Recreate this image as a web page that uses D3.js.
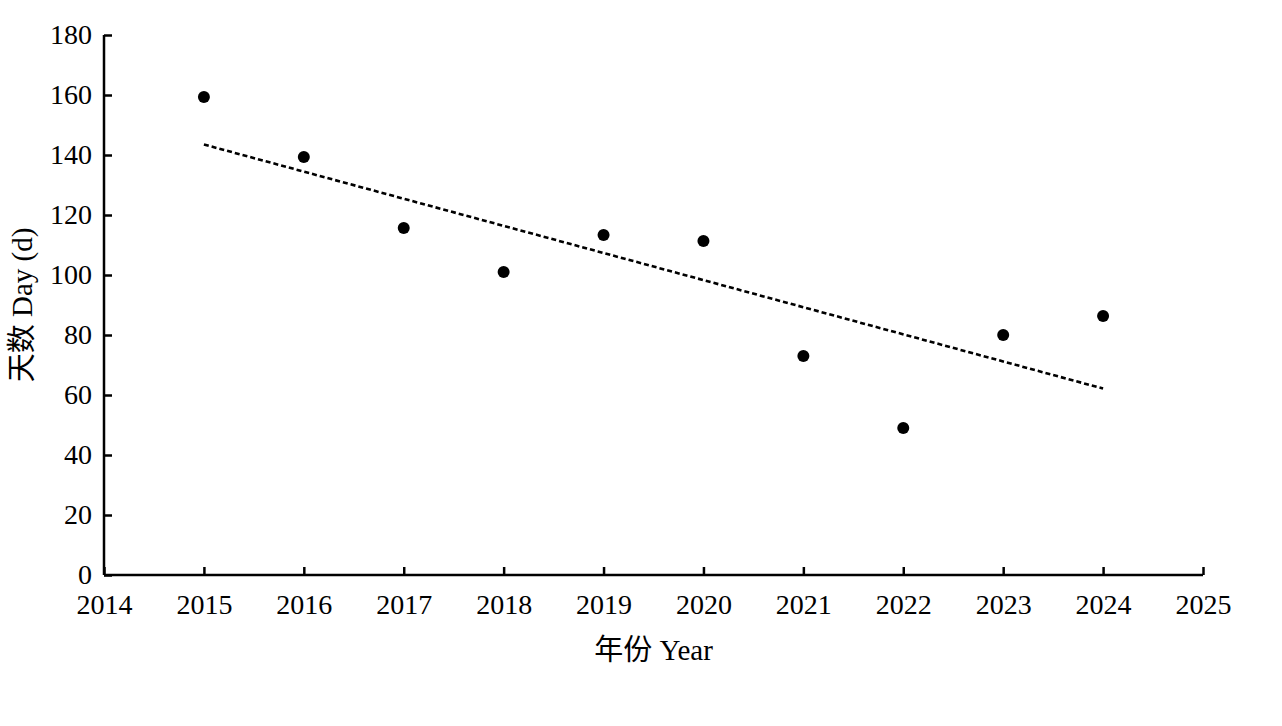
<!DOCTYPE html>
<html>
<head>
<meta charset="utf-8">
<script src="https://cdn.jsdelivr.net/npm/d3@7"></script>
<style>
  body { margin: 0; background: #fff; }
  svg text { font-family: "Liberation Serif", "Times New Roman", "Noto Sans CJK SC", serif; fill: #000; }
</style>
</head>
<body>
<svg id="chart" width="1282" height="726"></svg>
<script>
// data
var years = [2015, 2016, 2017, 2018, 2019, 2020, 2021, 2022, 2023, 2024]
var days = [159.3, 139.3, 115.7, 101, 113.3, 111.3, 73, 49, 80, 86.3]
var xTicks = [2014, 2015, 2016, 2017, 2018, 2019, 2020, 2021, 2022, 2023, 2024, 2025]
var yTicks = [0, 20, 40, 60, 80, 100, 120, 140, 160, 180]

var margin = {top: 35, right: 79, bottom: 151, left: 104},
    width = 1282 - margin.left - margin.right,
    height = 726 - margin.top - margin.bottom

var svg = d3.select("#chart")
var g = svg.append("g").attr("transform", "translate(" + margin.left + "," + margin.top + ")")

var x = d3.scaleLinear().domain([2014, 2025]).range([0, width])
var y = d3.scaleLinear().domain([0, 180]).range([height, 0])

// least squares trend
var mx = d3.mean(years), my = d3.mean(days)
var sxy = d3.sum(years, function(d, i) { return (d - mx) * (days[i] - my) })
var sxx = d3.sum(years, function(d) { return (d - mx) * (d - mx) })
var slope = sxy / sxx, icpt = my - slope * mx
var trend = [years[0], years[years.length - 1]].map(function(d) { return [d, icpt + slope * d] })

g.append("path")
    .datum(trend)
    .attr("fill", "none")
    .attr("stroke", "#000")
    .attr("stroke-width", 2.6)
    .attr("stroke-dasharray", "5,3")
    .attr("d", d3.line().x(function(d) { return x(d[0]) }).y(function(d) { return y(d[1]) }))

g.selectAll("circle.pt")
    .data(years)
    .enter().append("circle")
    .attr("class", "pt")
    .attr("cx", function(d) { return x(d) })
    .attr("cy", function(d, i) { return y(days[i]) })
    .attr("r", 6)
    .attr("fill", "#000")

var xAxis = d3.axisBottom(x).tickValues(xTicks).tickFormat(d3.format("d")).tickSize(-8).tickPadding(19)
var yAxis = d3.axisLeft(y).tickValues(yTicks).tickSize(-8).tickPadding(12)

var gx = g.append("g").attr("transform", "translate(0," + height + ")").call(xAxis)
var gy = g.append("g").call(yAxis)

;[gx, gy].forEach(function(a) {
    a.select(".domain").attr("stroke", "#000").attr("stroke-width", 2.5)
    a.selectAll(".tick line").attr("stroke", "#000").attr("stroke-width", 2.5)
    a.selectAll(".tick text").attr("font-size", 28).attr("fill", "#000")
        .style("font-family", "'Liberation Serif', serif")
})
gy.select(".domain").attr("d", "M0," + height + "V0")
gx.select(".domain").attr("d", "M0,0H" + width)

svg.append("text")
    .attr("x", margin.left + width / 2)
    .attr("y", 660)
    .attr("text-anchor", "middle")
    .attr("font-size", 29)
    .text("年份 Year")

svg.append("text")
    .attr("transform", "translate(32," + (margin.top + height / 2) + ") rotate(-90)")
    .attr("text-anchor", "middle")
    .attr("font-size", 29)
    .text("天数 Day (d)")
</script>
</body>
</html>
